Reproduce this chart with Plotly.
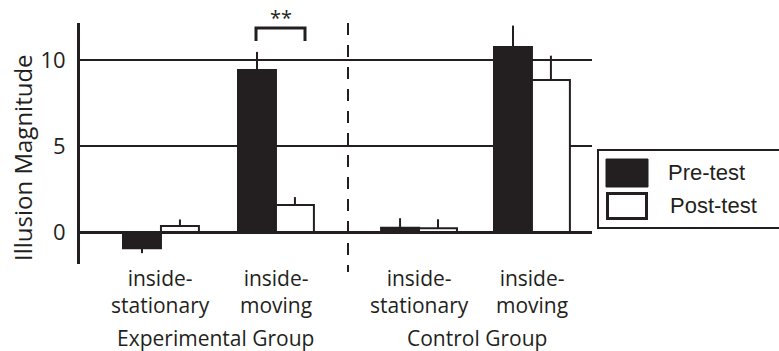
import plotly.graph_objects as go

categories = ["inside-<br>stationary", "inside-<br>moving", "inside-<br>stationary", "inside-<br>moving"]
groups = ["Experimental Group", "Control Group"]
pre_values = [-0.95, 9.42, 0.25, 10.75]
pre_errors = [0.28, 1.05, 0.55, 1.25]
post_values = [0.35, 1.57, 0.22, 8.84]
post_errors = [0.38, 0.46, 0.52, 1.41]
series_names = ["Pre-test", "Post-test"]
y_ticks = [0, 5, 10]

# layout (pixel geometry of the plot area)
W, H = 779, 351
L, R, T, B = 80, 592, 23, 264
x_pos = [0.704, 1.704, 2.948, 3.93]
bar_w = 0.33
x_range = [0, (R - L) / 115]
y_range = [-1.86, 12.15]
FONT = "Open Sans"
INK = "#231f20"

def px(xp):
    return (xp - L) / (R - L)

def py(yp):
    return (B - yp) / (B - T)

def err_up(vals, errs):
    return [e if v >= 0 else 0 for v, e in zip(vals, errs)]

def err_dn(vals, errs):
    return [e if v < 0 else 0 for v, e in zip(vals, errs)]

fig = go.Figure()
fig.add_trace(go.Bar(
    x=x_pos, y=pre_values, name=series_names[0], width=bar_w, offset=-bar_w,
    marker=dict(color=INK, line=dict(color=INK, width=2)),
    error_y=dict(type="data", array=err_up(pre_values, pre_errors),
                 arrayminus=err_dn(pre_values, pre_errors), symmetric=False,
                 color=INK, thickness=2, width=0),
    showlegend=False))
fig.add_trace(go.Bar(
    x=x_pos, y=post_values, name=series_names[1], width=bar_w, offset=0,
    marker=dict(color="white", line=dict(color=INK, width=2)),
    error_y=dict(type="data", array=err_up(post_values, post_errors),
                 arrayminus=err_dn(post_values, post_errors), symmetric=False,
                 color=INK, thickness=2, width=0),
    showlegend=False))

shapes = []
# dashed separator
shapes.append(dict(type="line", xref="paper", yref="paper", x0=px(348), x1=px(348),
                   y0=1, y1=py(272), line=dict(color=INK, width=2, dash="12px,10px")))
# significance bracket
shapes.append(dict(type="path", xref="paper", yref="paper",
                   path=f"M {px(256)} {py(41)} L {px(256)} {py(28)} L {px(305)} {py(28)} L {px(305)} {py(41)}",
                   line=dict(color=INK, width=3)))
# legend box
shapes.append(dict(type="rect", xref="paper", yref="paper", x0=px(598), x1=px(800),
                   y0=py(228), y1=py(150), line=dict(color=INK, width=2), fillcolor="white"))
shapes.append(dict(type="rect", xref="paper", yref="paper", x0=px(606), x1=px(648),
                   y0=py(187), y1=py(159), line=dict(color=INK, width=1), fillcolor=INK))
shapes.append(dict(type="rect", xref="paper", yref="paper", x0=px(607.5), x1=px(646.5),
                   y0=py(218.5), y1=py(193.5), line=dict(color=INK, width=3), fillcolor="white"))

ann = []
for xp, c in zip(x_pos, categories):
    ann.append(dict(x=xp, xref="x", y=py(291), yref="paper", text=c, showarrow=False,
                    font=dict(family=FONT, size=21, color=INK), align="center",
                    xanchor="center", yanchor="middle"))
ann.append(dict(x=px(215), xref="paper", y=py(338), yref="paper", text=groups[0], showarrow=False,
                font=dict(family=FONT, size=21, color=INK), xanchor="center", yanchor="middle"))
ann.append(dict(x=px(477), xref="paper", y=py(338), yref="paper", text=groups[1], showarrow=False,
                font=dict(family=FONT, size=21, color=INK), xanchor="center", yanchor="middle"))
ann.append(dict(x=px(22), xref="paper", y=py(158), yref="paper", text="Illusion Magnitude",
                textangle=-90, showarrow=False, font=dict(family=FONT, size=24, color=INK),
                xanchor="center", yanchor="middle"))
ann.append(dict(x=px(281), xref="paper", y=py(1.5), yref="paper", text="**", showarrow=False,
                font=dict(family=FONT, size=20, color=INK), xanchor="center", yanchor="top"))
ann.append(dict(x=px(666), xref="paper", y=py(172), yref="paper", text=series_names[0], showarrow=False,
                font=dict(family="Liberation Sans", size=22, color=INK), xanchor="left", yanchor="middle"))
ann.append(dict(x=px(668), xref="paper", y=py(205), yref="paper", text=series_names[1], showarrow=False,
                font=dict(family="Liberation Sans", size=22, color=INK), xanchor="left", yanchor="middle"))

fig.update_layout(
    width=W, height=H,
    margin=dict(l=L, r=W - R, t=T, b=H - B, autoexpand=False),
    paper_bgcolor="white", plot_bgcolor="white",
    barmode="overlay",
    shapes=shapes, annotations=ann,
    xaxis=dict(range=x_range, showgrid=False, zeroline=False, showline=False,
               showticklabels=False, ticks=""),
    yaxis=dict(range=y_range, tickvals=y_ticks, showgrid=True, gridcolor=INK, gridwidth=2,
               zeroline=True, zerolinecolor=INK, zerolinewidth=3,
               showline=True, linecolor=INK, linewidth=3,
               ticks="", ticklabelstandoff=7,
               tickfont=dict(family=FONT, size=22, color=INK)),
)
fig.write_html("out.html", config={"displayModeBar": False},
               post_script="document.body.style.margin='0';document.body.style.overflow='hidden';")
